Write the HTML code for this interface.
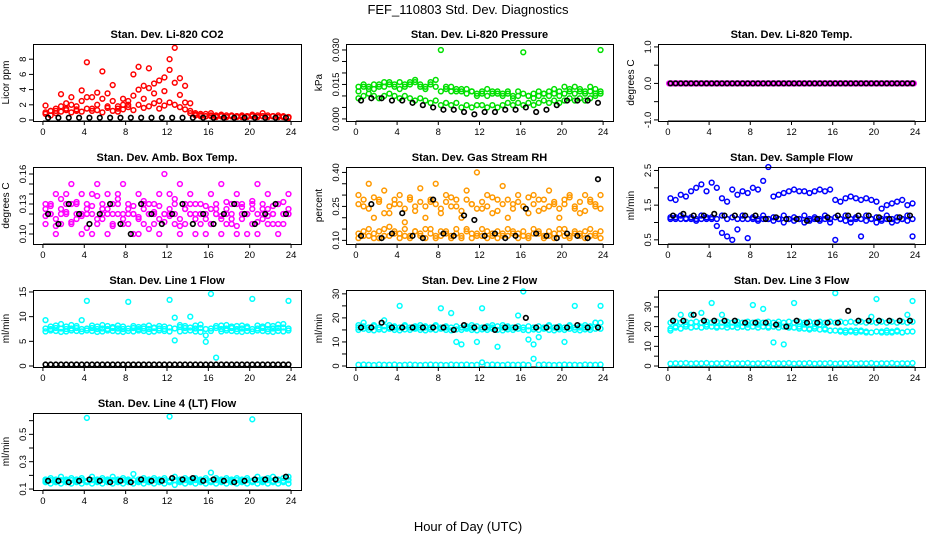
<!DOCTYPE html>
<html><head><meta charset="utf-8"><style>
body{margin:0;background:#fff}
svg{display:block}
text{font-family:"Liberation Sans",sans-serif;fill:#000}
</style></head><body>
<svg id="chart" width="936" height="540" viewBox="0 0 936 540" xmlns="http://www.w3.org/2000/svg">
<text x="468" y="14" font-size="13" text-anchor="middle">FEF_110803  Std. Dev. Diagnostics</text>
<text x="468" y="531" font-size="13" text-anchor="middle">Hour of Day (UTC)</text>
</svg>
<script>
const xTicks=[0,4,8,12,16,20,24];
// Panel 1 CO2
const co2A=[1.9,1.2,1.5,3.4,2.2,3.0,1.8,3.9,7.6,3.0,3.6,6.4,3.5,4.6,1.8,2.8,2.0,6.0,7.0,4.5,6.8,4.8,5.2,5.6,8.0,9.5,5.5,4.5,2.2,0.9,0.8,0.8,0.9,0.6,0.7,0.6,0.6,0.5,0.6,0.5,0.7,0.6,0.9,0.6,0.5,0.6,0.5,0.4];
const co2B=[0.8,0.6,1.2,1.8,1.5,2.0,1.2,2.5,3.0,1.5,2.0,2.8,1.8,2.5,1.5,2.0,2.5,3.2,4.0,2.8,4.2,3.5,2.5,3.8,6.6,4.9,3.3,2.3,1.2,0.7,0.6,0.5,0.6,0.5,0.5,0.4,0.5,0.5,0.4,0.5,0.5,0.4,0.5,0.4,0.5,0.4,0.4,0.3];
const co2C=[1.0,1.2,0.9,1.1,1.3,1.0,1.4,1.1,1.5,1.2,1.3,1.0,1.6,1.2,1.1,1.4,1.7,1.3,2.0,1.6,1.8,2.2,1.5,1.9,2.3,2.0,1.7,1.4,0.9,0.6,0.5,0.5,0.5,0.4,0.5,0.4,0.5,0.4,0.5,0.4,0.5,0.4,0.5,0.4,0.5,0.4,0.4,0.4];
const co2K=[0.3,0.3,0.3,0.3,0.3,0.3,0.3,0.3,0.3,0.3,0.3,0.3,0.3,0.3,0.3,0.3,0.3,0.3,0.3,0.3,0.3,0.3,0.3,0.3];
// Panel 2 pressure
const prA=[0.012,0.014,0.013,0.015,0.014,0.016,0.015,0.014,0.016,0.015,0.016,0.017,0.015,0.014,0.016,0.017,0.030,0.014,0.012,0.013,0.012,0.013,0.012,0.011,0.012,0.013,0.011,0.012,0.011,0.012,0.010,0.012,0.029,0.010,0.011,0.012,0.011,0.012,0.013,0.012,0.014,0.013,0.014,0.013,0.012,0.014,0.013,0.030];
const prC=[0.014,0.015,0.014,0.013,0.015,0.014,0.016,0.015,0.013,0.014,0.015,0.016,0.014,0.013,0.015,0.014,0.012,0.013,0.014,0.012,0.013,0.011,0.012,0.010,0.011,0.010,0.012,0.011,0.010,0.011,0.009,0.010,0.011,0.010,0.009,0.010,0.011,0.010,0.011,0.010,0.011,0.012,0.011,0.012,0.011,0.012,0.011,0.012];
const prB=[0.009,0.010,0.011,0.010,0.009,0.010,0.011,0.010,0.009,0.010,0.009,0.008,0.009,0.008,0.007,0.008,0.006,0.007,0.006,0.007,0.005,0.006,0.005,0.006,0.006,0.005,0.006,0.005,0.006,0.007,0.006,0.007,0.006,0.007,0.006,0.007,0.008,0.007,0.008,0.007,0.008,0.009,0.008,0.009,0.008,0.009,0.010,0.011];
const prK=[0.008,0.009,0.009,0.008,0.008,0.007,0.006,0.005,0.004,0.004,0.003,0.002,0.003,0.003,0.004,0.004,0.005,0.003,0.004,0.006,0.008,0.008,0.008,0.007];
// Panel 3 temp
const tpA=[0,0,0,0,0,0,0,0,0,0,0,0,0,0,0,0,0,0,0,0,0,0,0,0,0,0,0,0,0,0,0,0,0,0,0,0,0,0,0,0,0,0,0,0,0,0,0,0,0,0,0,0,0,0,0,0,0,0,0,0,0,0,0,0,0,0,0,0,0,0,0,0,0,0,0,0,0,0,0,0,0,0,0,0,0,0,0,0,0,0,0,0,0,0,0,0];
const tpK=[0,0,0,0,0,0,0,0,0,0,0,0,0,0,0,0,0,0,0,0,0,0,0,0,0,0,0,0,0,0,0,0,0,0,0,0,0,0,0,0,0,0,0,0,0,0,0,0];
// Panel 4 amb box temp
const abA=[0.13,0.12,0.14,0.11,0.13,0.15,0.12,0.14,0.13,0.10,0.15,0.12,0.14,0.11,0.13,0.15,0.12,0.10,0.14,0.13,0.12,0.11,0.14,0.16,0.12,0.13,0.15,0.11,0.14,0.12,0.13,0.10,0.14,0.12,0.15,0.11,0.13,0.14,0.12,0.10,0.13,0.15,0.12,0.14,0.11,0.13,0.12,0.14];
const abB=[0.11,0.13,0.10,0.12,0.14,0.11,0.13,0.10,0.12,0.14,0.11,0.13,0.10,0.12,0.14,0.11,0.13,0.12,0.10,0.11,0.13,0.12,0.10,0.12,0.14,0.11,0.10,0.13,0.12,0.10,0.11,0.12,0.11,0.13,0.10,0.12,0.11,0.10,0.13,0.12,0.11,0.10,0.13,0.11,0.12,0.10,0.11,0.12];
const abC=[0.125,0.12,0.115,0.125,0.12,0.13,0.115,0.12,0.125,0.12,0.115,0.125,0.12,0.13,0.12,0.115,0.125,0.12,0.115,0.125,0.12,0.13,0.115,0.12,0.125,0.12,0.115,0.125,0.12,0.13,0.12,0.115,0.125,0.12,0.115,0.125,0.12,0.13,0.115,0.12,0.125,0.12,0.115,0.125,0.12,0.13,0.12,0.125];
const abD=[0.118,0.128,0.108,0.135,0.122,0.112,0.132,0.118,0.106,0.128,0.138,0.115,0.125,0.108,0.135,0.12,0.11,0.128,0.117,0.133,0.105,0.122,0.128,0.112,0.118,0.135,0.108,0.125,0.13,0.115,0.12,0.128,0.11,0.125,0.118,0.132,0.115,0.108,0.127,0.12,0.133,0.112,0.125,0.118,0.128,0.11,0.132,0.12];
const abK=[0.12,0.11,0.13,0.12,0.11,0.12,0.13,0.11,0.10,0.13,0.12,0.11,0.12,0.13,0.11,0.12,0.11,0.12,0.13,0.12,0.11,0.12,0.13,0.12];
// Panel 5 gas RH
const rhA=[0.30,0.25,0.35,0.20,0.28,0.32,0.22,0.26,0.30,0.18,0.28,0.25,0.33,0.20,0.27,0.35,0.22,0.30,0.25,0.28,0.20,0.32,0.26,0.40,0.24,0.30,0.22,0.28,0.34,0.20,0.26,0.30,0.25,0.22,0.30,0.28,0.24,0.32,0.26,0.20,0.28,0.30,0.24,0.22,0.30,0.27,0.25,0.30];
const rhB=[0.13,0.12,0.15,0.11,0.14,0.12,0.16,0.13,0.11,0.15,0.12,0.14,0.13,0.11,0.15,0.12,0.14,0.13,0.12,0.15,0.11,0.14,0.13,0.12,0.15,0.11,0.13,0.14,0.12,0.15,0.13,0.11,0.14,0.12,0.15,0.13,0.12,0.14,0.11,0.13,0.15,0.12,0.14,0.13,0.11,0.15,0.12,0.14];
const rhC=[0.26,0.28,0.24,0.29,0.27,0.22,0.25,0.28,0.26,0.24,0.29,0.23,0.27,0.25,0.28,0.26,0.24,0.27,0.29,0.25,0.23,0.28,0.26,0.24,0.27,0.25,0.29,0.23,0.26,0.28,0.24,0.27,0.25,0.29,0.26,0.23,0.28,0.25,0.27,0.24,0.26,0.29,0.25,0.27,0.23,0.28,0.26,0.24];
const rhD=[0.11,0.14,0.12,0.13,0.11,0.15,0.12,0.14,0.13,0.12,0.11,0.14,0.12,0.15,0.13,0.11,0.12,0.14,0.11,0.13,0.12,0.15,0.11,0.13,0.12,0.14,0.12,0.11,0.13,0.12,0.14,0.13,0.12,0.11,0.13,0.14,0.11,0.12,0.13,0.15,0.12,0.11,0.13,0.12,0.14,0.12,0.13,0.11];
const rhK=[0.12,0.26,0.11,0.13,0.22,0.12,0.11,0.28,0.13,0.12,0.21,0.19,0.12,0.13,0.11,0.12,0.24,0.13,0.12,0.11,0.13,0.12,0.11,0.37];
// Panel 6 sample flow
const sfA=[1.7,1.65,1.8,1.75,1.9,2.0,2.1,1.9,2.15,2.0,1.7,1.6,1.95,1.8,1.9,1.85,2.0,1.95,2.2,2.6,1.75,1.8,1.85,1.9,1.95,1.9,1.9,1.85,1.9,1.95,1.9,1.95,1.65,1.6,1.7,1.75,1.7,1.65,1.7,1.65,1.6,1.4,1.5,1.55,1.6,1.65,1.5,1.55];
const sfB=[1.1,1.15,1.1,1.12,1.1,1.05,1.1,1.15,1.1,0.9,0.7,0.6,0.5,0.8,1.1,0.55,1.1,1.05,1.1,1.1,1.05,1.1,1.0,1.1,1.05,1.1,1.0,1.05,1.1,1.05,1.1,1.0,0.5,1.1,1.05,1.0,1.1,0.6,1.05,1.1,1.0,1.05,1.1,1.0,1.05,1.1,1.05,0.6];
const sfC=[1.15,1.1,1.2,1.1,1.15,1.1,1.2,1.1,1.15,1.1,1.2,1.1,1.15,1.1,1.2,1.1,1.15,1.1,1.2,1.1,1.15,1.1,1.2,1.1,1.15,1.1,1.2,1.1,1.15,1.1,1.2,1.1,1.15,1.1,1.2,1.1,1.15,1.1,1.2,1.1,1.15,1.1,1.2,1.1,1.15,1.1,1.2,1.1];
const sfK=[1.2,1.25,1.2,1.2,1.25,1.2,1.2,1.2,1.2,1.1,1.15,1.1,1.1,1.05,1.1,1.15,1.2,1.2,1.2,1.2,1.15,1.1,1.15,1.2];
// Panel 7 line1
const l1A=[9.3,8.0,8.2,8.5,8.0,8.3,8.1,9.3,13.2,8.2,8.0,8.3,8.1,7.9,8.2,8.0,13.0,8.1,7.9,8.0,8.2,7.8,8.1,8.0,13.4,9.8,8.3,8.1,10.0,8.2,8.4,6.2,14.6,8.1,8.2,8.3,8.0,8.1,8.2,8.0,13.6,8.2,8.0,8.3,8.1,8.4,8.5,13.2];
const l1B=[7.0,7.2,7.1,6.9,7.0,7.2,7.1,7.0,7.2,7.1,6.9,7.0,7.2,7.1,7.0,6.9,7.1,7.0,7.2,7.1,6.9,7.0,7.2,7.1,7.0,5.2,7.0,7.1,7.2,7.0,6.9,4.9,7.1,1.7,7.0,7.2,7.1,7.0,6.9,7.1,7.0,7.2,7.1,7.0,6.9,7.1,7.0,7.2];
const l1C=[7.6,7.5,7.7,7.6,7.5,7.6,7.7,7.5,7.6,7.7,7.5,7.6,7.5,7.7,7.6,7.5,7.6,7.7,7.5,7.6,7.5,7.7,7.6,7.5,7.8,7.6,7.9,7.7,7.8,7.6,7.7,7.5,7.6,7.7,7.5,7.6,7.7,7.5,7.6,7.7,7.5,7.6,7.7,7.5,7.6,7.7,7.8,7.6];
const l1K=[0.3,0.3,0.3,0.3,0.3,0.3,0.3,0.3,0.3,0.3,0.3,0.3,0.3,0.3,0.3,0.3,0.3,0.3,0.3,0.3,0.3,0.3,0.3,0.3,0.3,0.3,0.3,0.3,0.3,0.3,0.3,0.3,0.3,0.3,0.3,0.3,0.3,0.3,0.3,0.3,0.3,0.3,0.3,0.3,0.3,0.3,0.3,0.3];
// Panel 8 line2
const l2A=[17,18,16,17,16,19,17,16,25,17,16,16,17,16,16,17,24,16,22,10,9,16,17,10,24,16,17,8,17,16,16,21,31,11,9,12,16,17,16,16,10,17,25,16,17,16,18,25];
const l2B=[0.5,0.6,0.5,0.4,0.6,0.5,0.5,0.6,0.4,0.5,0.6,0.5,0.4,0.5,0.6,0.5,0.5,0.4,0.6,0.5,0.5,0.6,0.4,0.5,1.5,0.5,0.6,0.5,0.4,0.6,0.5,0.5,0.6,0.4,3.0,0.5,0.6,0.5,0.4,0.5,0.6,0.5,0.5,0.4,0.6,0.5,0.5,0.6];
const l2C=[15,15.5,15,14.8,15.2,15,15.5,15,14.8,15.2,15,15.5,15,14.8,15.2,15,15.5,15,14.8,15.2,15,15.5,15,14.8,15.2,15,15.5,15,14.8,15.2,15,15.5,15,14.8,15.2,15,15.5,15,14.8,15.2,15,15.5,15,14.8,15.2,15,15.5,15.5];
const l2D=[16,16.5,16,16.5,16,16.5,16,16.5,16,16.5,16,16.5,16,16.5,16,16.5,16,16.5,16,16.5,16,16.5,16,16.5,16,16.5,16,16.5,16,16.5,16,16.5,16,16.5,16,16.5,16,16.5,16,16.5,16,16.5,16,16.5,16,16.5,18,18];
const l2K=[16,16,18,16,16,16,16,16,16,15,17,16,16,15,16,16,20,16,16,16,16,17,16,16];
// Panel 9 line3
const l3A=[18,20,26,21,26,20,27,21,32,20,26,21,20,21,20,21,31,21,29,20,12,21,11,20,32,20,21,19,20,21,19,18,37,18,17,18,17,18,17,25,34,17,18,17,18,17,26,33];
const l3B=[1.2,1.4,1.3,1.5,1.2,1.4,1.3,1.5,1.2,1.4,1.3,1.5,1.2,1.4,1.3,1.5,1.2,1.4,1.3,1.5,1.2,1.4,1.3,1.5,1.2,1.4,1.3,1.5,1.2,1.4,1.3,1.5,1.2,1.4,1.3,1.5,1.2,1.4,1.3,1.5,1.2,1.4,1.3,1.5,1.2,1.4,1.3,1.5];
const l3C=[22,22.5,22,22.5,22,22.5,22,22.5,22,22.5,22,22.5,22,22.5,22,22.5,22,22.5,22,22.5,22,22.5,22,22.5,22,22.5,22,22.5,22,22.5,22,22.5,22,22.5,22,22.5,22,22.5,22,22.5,22,22.5,22,22.5,22,22.5,22,22.5];
const l3D=[19,19.5,19,20,19.5,20,19.5,20,20,19.5,20,19.5,20,19.5,20,19.5,20,19.5,20,19.5,20,19.5,20,19.5,19.5,19,19,18.5,19,18.5,18.5,18,18,17.5,18,17.5,18,17.5,17.5,17,17.5,17.5,17,17.5,17.5,17,17.5,17.5];
const l3K=[23,23,26,23,23,23,23,22,22,22,21,20,23,22,22,22,22,28,23,23,23,23,23,23];
// Panel 10 line4
const l4A=[0.17,0.18,0.17,0.19,0.17,0.18,0.17,0.18,0.62,0.19,0.17,0.18,0.17,0.19,0.17,0.18,0.17,0.21,0.17,0.18,0.17,0.18,0.17,0.18,0.63,0.19,0.17,0.18,0.17,0.18,0.17,0.18,0.22,0.18,0.17,0.18,0.17,0.18,0.17,0.18,0.61,0.19,0.17,0.18,0.19,0.17,0.18,0.19];
const l4B=[0.15,0.14,0.15,0.14,0.15,0.14,0.15,0.14,0.15,0.14,0.15,0.14,0.15,0.14,0.15,0.14,0.15,0.14,0.15,0.14,0.15,0.14,0.15,0.14,0.15,0.13,0.15,0.14,0.15,0.14,0.15,0.14,0.15,0.14,0.15,0.14,0.15,0.14,0.15,0.14,0.15,0.14,0.15,0.14,0.15,0.14,0.15,0.14];
const l4C=[0.16,0.165,0.16,0.165,0.16,0.165,0.16,0.165,0.16,0.165,0.16,0.165,0.16,0.165,0.16,0.165,0.16,0.165,0.16,0.165,0.16,0.165,0.16,0.165,0.16,0.165,0.16,0.165,0.16,0.165,0.16,0.165,0.16,0.165,0.16,0.165,0.16,0.165,0.16,0.165,0.16,0.165,0.16,0.165,0.16,0.165,0.16,0.165];
const l4K=[0.16,0.16,0.15,0.16,0.17,0.16,0.15,0.16,0.15,0.17,0.16,0.16,0.18,0.17,0.18,0.16,0.17,0.16,0.15,0.16,0.17,0.17,0.17,0.19];

const svg=document.getElementById('chart');
const NS='http://www.w3.org/2000/svg';
function mk(tag,attrs,parent){const e=document.createElementNS(NS,tag);for(const k in attrs)e.setAttribute(k,attrs[k]);(parent||svg).appendChild(e);return e;}
const colL=[33,346,658], colW=[268,267,267];
const rowT=[44,167,290,413], rowH=77;
const COL={red:'#ff0000',green:'#00e000',mag:'#ff00ff',orange:'#ff9900',blue:'#0000ff',cyan:'#00ffff',black:'#000000'};
const panels=[
 {name:'co2',title:'Stan. Dev. Li-820 CO2',yl:'Licor ppm',c:0,r:0,ylo:-0.13,yhi:10.0,ticks:[0,2,4,6,8],labs:['0','2','4','6','8'],series:[[co2C,'red'],[co2B,'red'],[co2A,'red'],[co2K,'black']]},
 {name:'pressure',title:'Stan. Dev. Li-820 Pressure',yl:'kPa',c:1,r:0,ylo:-0.0009,yhi:0.0326,ticks:[0,0.005,0.01,0.015,0.02,0.025,0.03],labs:['0.000','','','0.015','','','0.030'],series:[[prB,'green'],[prC,'green'],[prA,'green'],[prK,'black']]},
 {name:'temp',title:'Stan. Dev. Li-820 Temp.',yl:'degrees C',c:2,r:0,ylo:-1.03,yhi:1.08,ticks:[-1,-0.5,0,0.5,1],labs:['-1.0','','0.0','','1.0'],series:[[tpA,'mag'],[tpK,'black']]},
 {name:'amb-box-temp',title:'Stan. Dev. Amb. Box Temp.',yl:'degrees C',c:0,r:1,ylo:0.09,yhi:0.167,ticks:[0.10,0.11,0.12,0.13,0.14,0.15,0.16],labs:['0.10','','','0.13','','','0.16'],series:[[abA,'mag'],[abB,'mag'],[abC,'mag'],[abD,'mag'],[abK,'black']]},
 {name:'gas-rh',title:'Stan. Dev. Gas Stream RH',yl:'percent',c:1,r:1,ylo:0.084,yhi:0.424,ticks:[0.10,0.15,0.20,0.25,0.30,0.35,0.40],labs:['0.10','','','0.25','','','0.40'],series:[[rhA,'orange'],[rhC,'orange'],[rhB,'orange'],[rhD,'orange'],[rhK,'black']]},
 {name:'sample-flow',title:'Stan. Dev. Sample Flow',yl:'ml/min',c:2,r:1,ylo:0.38,yhi:2.6,ticks:[0.5,1,1.5,2,2.5],labs:['0.5','','1.5','','2.5'],series:[[sfA,'blue'],[sfB,'blue'],[sfC,'blue'],[sfK,'black']]},
 {name:'line1-flow',title:'Stan. Dev. Line 1 Flow',yl:'ml/min',c:0,r:2,ylo:-0.2,yhi:15.4,ticks:[0,5,10,15],labs:['0','5','10','15'],series:[[l1A,'cyan'],[l1B,'cyan'],[l1C,'cyan'],[l1K,'black']]},
 {name:'line2-flow',title:'Stan. Dev. Line 2 Flow',yl:'ml/min',c:1,r:2,ylo:-0.42,yhi:31.6,ticks:[0,5,10,15,20,25,30],labs:['0','','10','','20','','30'],series:[[l2A,'cyan'],[l2C,'cyan'],[l2D,'cyan'],[l2B,'cyan'],[l2K,'black']]},
 {name:'line3-flow',title:'Stan. Dev. Line 3 Flow',yl:'ml/min',c:2,r:2,ylo:-0.5,yhi:38.6,ticks:[0,5,10,15,20,25,30,35],labs:['0','','10','','20','','30',''],series:[[l3A,'cyan'],[l3C,'cyan'],[l3D,'cyan'],[l3B,'cyan'],[l3K,'black']]},
 {name:'line4-flow',title:'Stan. Dev. Line 4 (LT) Flow',yl:'ml/min',c:0,r:3,ylo:0.093,yhi:0.656,ticks:[0.1,0.2,0.3,0.4,0.5,0.6],labs:['0.1','','0.3','','0.5',''],series:[[l4A,'cyan'],[l4B,'cyan'],[l4C,'cyan'],[l4K,'black']]}
];
panels.forEach(p=>{
 const L=colL[p.c],W=colW[p.c],T=rowT[p.r],H=rowH,B=T+H;
 const g=mk('g',{});
 
 
 const xs=h=>L+(h+0.96)/25.92*W;
 const ys=v=>B-(v-p.ylo)/(p.yhi-p.ylo)*H;
 const t=mk('text',{x:L+W/2,y:T-6,'font-size':11,'font-weight':'bold','text-anchor':'middle'},g);
 t.textContent=p.title;
 
 
 const yl=mk('text',{x:0,y:0,'font-size':10,'text-anchor':'middle',transform:`translate(${L-24},${T+H/2}) rotate(-90)`},g);
 yl.textContent=p.yl;
 
 
 xTicks.forEach(v=>{
  const x=xs(v);
  mk('line',{x1:x,x2:x,y1:B,y2:B+4,stroke:'#000','stroke-width':1},g);
  const tl=mk('text',{x:x,y:B+14,'font-size':9.5,'text-anchor':'middle'},g);
  tl.textContent=v;
  
  
 });
 mk('line',{x1:xs(0),x2:xs(24),y1:B,y2:B,stroke:'#000'},g);
 p.ticks.forEach((v,i)=>{
  const y=ys(v);
  mk('line',{x1:L,x2:L-4,y1:y,y2:y,stroke:'#000'},g);
  if(p.labs[i]){
   const tl=mk('text',{x:0,y:0,'font-size':9.5,'text-anchor':'middle',transform:`translate(${L-7},${y}) rotate(-90)`},g);
   tl.textContent=p.labs[i];
   
   
  }
 });
 p.series.forEach(([arr,col])=>{
  const sg=mk('g',{fill:'none',stroke:COL[col],'stroke-width':col==='black'?1.6:1.5},g);
  
  
  const step=24/arr.length;
  arr.forEach((v,i)=>{
   const h=col==='black'?(i+0.5)*step:i*step+step/2;
   const c=mk('circle',{cx:xs(h),cy:ys(v),r:col==='black'?2.3:2.4},sg);
   
   
  });
 });
 const box=mk('rect',{x:L+0.5,y:T+0.5,width:W,height:H,fill:'none',stroke:'#000','stroke-width':1},g);
 
 
});
</script>
</body></html>
